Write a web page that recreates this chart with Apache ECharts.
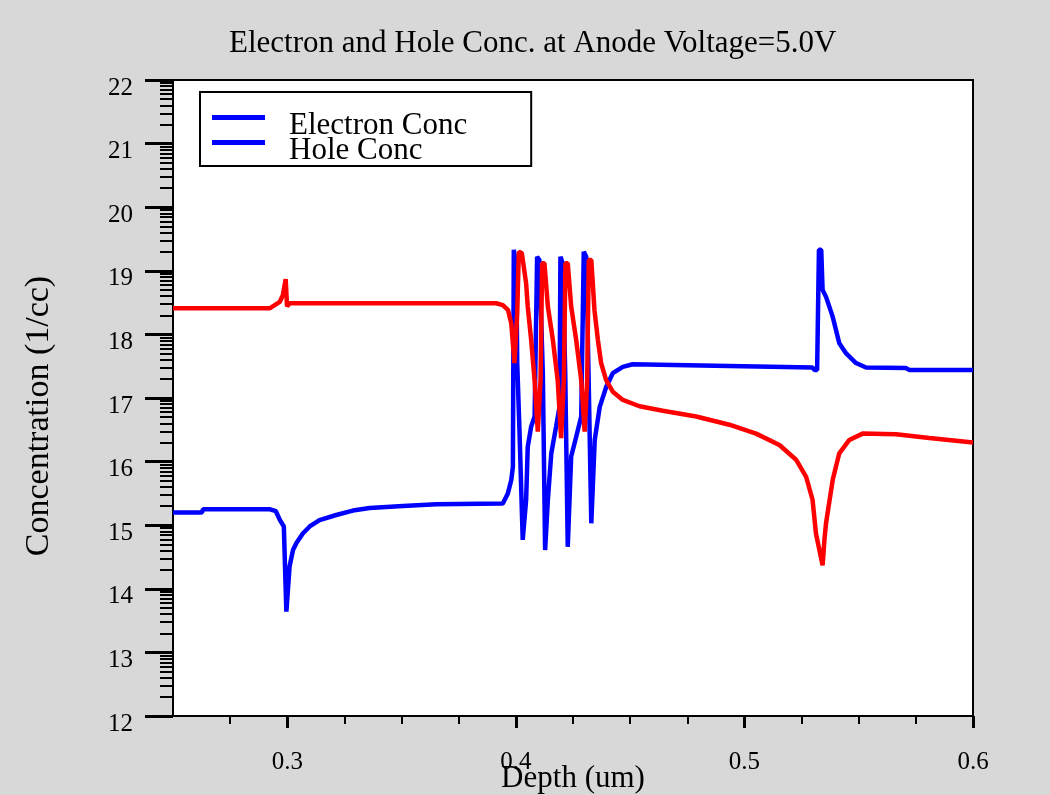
<!DOCTYPE html>
<html>
<head>
<meta charset="utf-8">
<title>Electron and Hole Conc. at Anode Voltage=5.0V</title>
<script src="https://cdn.jsdelivr.net/npm/echarts@6/dist/echarts.min.js"></script>
<style>
  html, body { margin: 0; padding: 0; background: #d8d8d8; }
  #chart { width: 1050px; height: 795px; }
</style>
</head>
<body>
<div id="chart"></div>
<script>
// Electron concentration profile: depth (um) and log10 concentration (1/cc)
const electronDepth = [
  0.2500, 0.2627, 0.2631, 0.2925, 0.2950, 0.2968, 0.2985, 0.2990, 0.2996, 0.3004,
  0.3010, 0.3025, 0.3040, 0.3068, 0.3098, 0.3141, 0.3214, 0.3287, 0.3360, 0.3506,
  0.3652, 0.3943, 0.3965, 0.3980, 0.3987, 0.3991, 0.4002, 0.4006, 0.4016, 0.4030,
  0.4045, 0.4052, 0.4067, 0.4082, 0.4093, 0.4103, 0.4118, 0.4128, 0.4140, 0.4155,
  0.4176, 0.4191, 0.4195, 0.4205, 0.4216, 0.4227, 0.4242, 0.4264, 0.4286, 0.4297,
  0.4308, 0.4318, 0.4330, 0.4345, 0.4367, 0.4396, 0.4424, 0.4468, 0.4511, 0.4992,
  0.5000, 0.5298, 0.5306, 0.5318, 0.5320, 0.5326, 0.5336, 0.5342, 0.5357, 0.5386,
  0.5415, 0.5445, 0.5488, 0.5532, 0.5707, 0.5722, 0.6000
];
const electronConc = [
  15.20, 15.20, 15.25, 15.25, 15.22, 15.08, 14.98, 14.35, 13.64, 13.64,
  14.35, 14.61, 14.72, 14.87, 14.98, 15.08, 15.16, 15.23, 15.27, 15.30,
  15.33, 15.34, 15.50, 15.71, 15.92, 19.33, 19.06, 17.55, 16.47, 14.77,
  15.40, 16.23, 16.55, 16.71, 19.22, 19.17, 17.39, 14.61, 15.40, 16.13,
  16.55, 16.86, 19.22, 19.12, 17.39, 14.66, 16.08, 16.39, 16.71, 19.30,
  19.22, 17.39, 15.03, 16.34, 16.86, 17.18, 17.39, 17.49, 17.53, 17.50,
  17.48, 17.48, 17.44, 17.44, 17.91, 19.33, 19.33, 18.70, 18.59, 18.28,
  17.86, 17.70, 17.55, 17.48, 17.47, 17.44, 17.44
];

// Hole concentration profile
const holeDepth = [
  0.2500, 0.2923, 0.2945, 0.2967, 0.2981, 0.2993, 0.2999, 0.3010, 0.3914, 0.3943,
  0.3951, 0.3966, 0.3980, 0.3994, 0.4006, 0.4013, 0.4026, 0.4045, 0.4052, 0.4067,
  0.4082, 0.4096, 0.4108, 0.4115, 0.4125, 0.4140, 0.4162, 0.4183, 0.4198, 0.4210,
  0.4217, 0.4227, 0.4242, 0.4264, 0.4286, 0.4301, 0.4312, 0.4319, 0.4330, 0.4344,
  0.4359, 0.4373, 0.4395, 0.4424, 0.4468, 0.4541, 0.4643, 0.4789, 0.4934, 0.5051,
  0.5153, 0.5226, 0.5270, 0.5298, 0.5313, 0.5331, 0.5342, 0.5350, 0.5357, 0.5386,
  0.5415, 0.5459, 0.5517, 0.5663, 0.5809, 0.6000
];
const holeConc = [
  18.41, 18.41, 18.46, 18.51, 18.62, 18.87, 18.44, 18.49, 18.49, 18.46,
  18.48, 18.38, 18.17, 17.55, 18.33, 19.30, 19.28, 18.80, 18.44, 17.91,
  17.28, 16.47, 17.28, 19.12, 19.12, 18.44, 17.91, 17.28, 16.37, 17.28,
  19.12, 19.12, 18.44, 17.91, 17.28, 16.47, 17.28, 19.17, 19.17, 18.38,
  17.91, 17.55, 17.28, 17.10, 16.97, 16.87, 16.80, 16.71, 16.58, 16.44,
  16.26, 16.03, 15.76, 15.40, 14.87, 14.56, 14.37, 14.77, 15.03, 15.71,
  16.13, 16.34, 16.44, 16.43, 16.37, 16.30
];

// Axis ticks
const depthLabels = [0.3, 0.4, 0.5, 0.6];
const depthMinorTicks = [0.275, 0.325, 0.35, 0.375, 0.425, 0.45, 0.475, 0.525, 0.55, 0.575];
const concMin = 12, concMax = 22;
// log10(2) ... log10(9): sub-decade tick offsets
const decadeFractions = [0.301, 0.477, 0.602, 0.699, 0.778, 0.845, 0.903, 0.954];

const concMinorTicks = [];
for (let n = concMin; n < concMax; n++) {
  decadeFractions.forEach(f => concMinorTicks.push(n + f));
}

const pairs = (xs, ys) => xs.map((x, i) => [x, ys[i]]);

const SERIF = 'Liberation Serif, Times New Roman, serif';
const BLUE = '#0000ff';
const RED = '#ff0000';

const chart = echarts.init(document.getElementById('chart'), null, { renderer: 'canvas' });

chart.setOption({
  animation: false,
  backgroundColor: '#d8d8d8',
  title: {
    text: 'Electron and Hole Conc. at Anode Voltage=5.0V',
    left: 229,
    top: 28,
    padding: 0,
    textStyle: { fontFamily: SERIF, fontSize: 31, fontWeight: 'normal', color: '#000' }
  },
  legend: {
    orient: 'vertical',
    left: 200,
    top: 92,
    padding: [18, 64, 0, 12],
    itemGap: -6,
    itemWidth: 72,
    itemHeight: 21,
    backgroundColor: '#ffffff',
    borderColor: '#000000',
    borderWidth: 2,
    borderRadius: 0,
    icon: 'path://M0,0L53,0L53,5L0,5ZM72,21L72,21',
    itemStyle: { borderWidth: 0 },
    selectedMode: false,
    textStyle: { fontFamily: SERIF, fontSize: 31, color: '#000', padding: [4, 0, 0, 0] },
    data: [
      { name: 'Electron Conc', itemStyle: { color: BLUE, borderWidth: 0 } },
      { name: 'Hole Conc', itemStyle: { color: BLUE, borderWidth: 0 } }
    ]
  },
  grid: {
    left: 173, right: 77, top: 80, bottom: 79,
    outerBoundsMode: 'none',
    show: true,
    backgroundColor: '#ffffff',
    borderColor: '#000000',
    borderWidth: 2
  },
  xAxis: [
    {
      type: 'value',
      min: 0.25,
      max: 0.6,
      name: 'Depth (um)',
      nameLocation: 'middle',
      nameGap: 47,
      nameMoveOverlap: false,
      nameTextStyle: { fontFamily: SERIF, fontSize: 31, color: '#000' },
      axisLine: { show: true, lineStyle: { color: '#000', width: 2 } },
      axisTick: { show: true, inside: false, length: 12, customValues: depthLabels, lineStyle: { color: '#000', width: 3 } },
      axisLabel: {
        customValues: depthLabels,
        margin: 34,
        fontFamily: SERIF, fontSize: 25, color: '#000',
        formatter: v => v.toFixed(1)
      },
      splitLine: { show: false }
    },
    {
      type: 'value',
      min: 0.25,
      max: 0.6,
      position: 'bottom',
      axisLine: { show: false },
      axisTick: { show: true, inside: false, length: 8, customValues: depthMinorTicks, lineStyle: { color: '#000', width: 2 } },
      axisLabel: { show: false },
      splitLine: { show: false }
    }
  ],
  yAxis: [
    {
      type: 'value',
      min: concMin,
      max: concMax,
      interval: 1,
      name: 'Concentration (1/cc)',
      nameLocation: 'middle',
      nameGap: 117,
      nameMoveOverlap: false,
      nameTextStyle: { fontFamily: SERIF, fontSize: 34, color: '#000', padding: [0, 36, 0, 0] },
      axisLine: { show: true, lineStyle: { color: '#000', width: 2 } },
      axisTick: { show: true, inside: false, length: 28, lineStyle: { color: '#000', width: 3 } },
      axisLabel: {
        margin: 40,
        verticalAlign: 'top',
        lineHeight: 16,
        fontFamily: SERIF, fontSize: 25, color: '#000'
      },
      splitLine: { show: false }
    },
    {
      type: 'value',
      min: concMin,
      max: concMax,
      position: 'left',
      axisLine: { show: false },
      axisTick: { show: true, inside: false, length: 13, customValues: concMinorTicks, lineStyle: { color: '#000', width: 2 } },
      axisLabel: { show: false },
      splitLine: { show: false }
    }
  ],
  series: [
    {
      name: 'Electron Conc',
      type: 'line',
      xAxisIndex: 0,
      yAxisIndex: 0,
      showSymbol: false,
      symbol: 'none',
      silent: true,
      lineStyle: { color: BLUE, width: 4.5 },
      itemStyle: { color: BLUE },
      data: pairs(electronDepth, electronConc)
    },
    {
      name: 'Hole Conc',
      type: 'line',
      xAxisIndex: 0,
      yAxisIndex: 0,
      showSymbol: false,
      symbol: 'none',
      silent: true,
      lineStyle: { color: RED, width: 4.5 },
      itemStyle: { color: RED },
      data: pairs(holeDepth, holeConc)
    }
  ]
});
</script>
</body>
</html>
